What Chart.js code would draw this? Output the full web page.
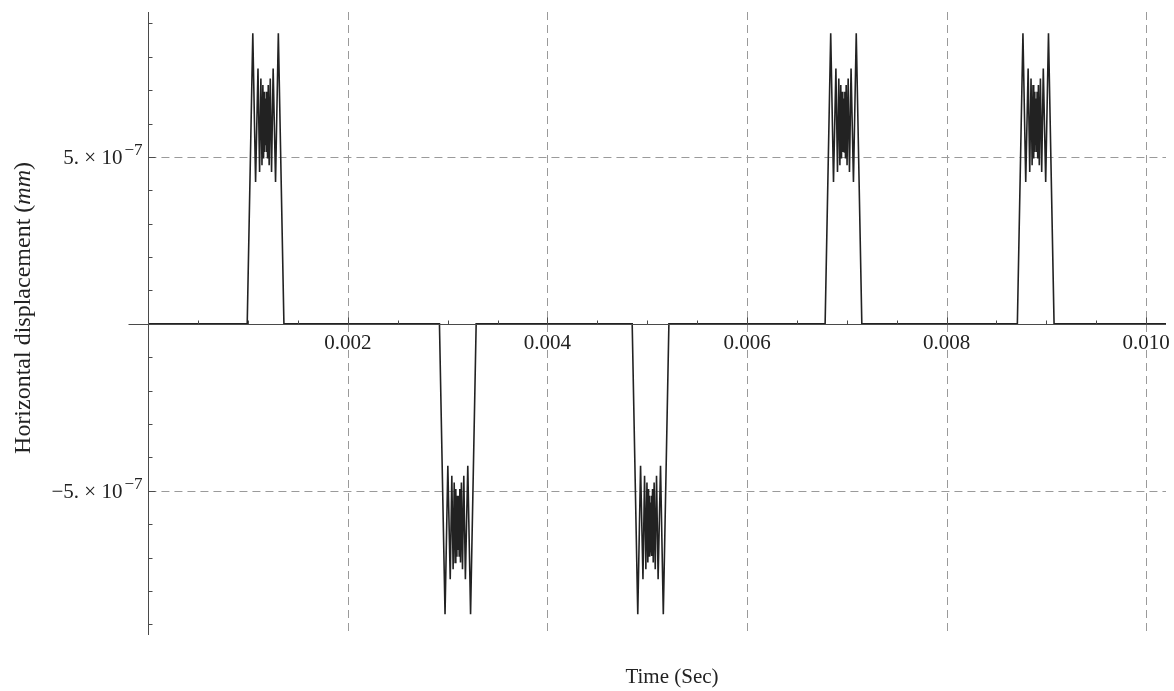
<!DOCTYPE html>
<html>
<head>
<meta charset="utf-8">
<script src="https://cdn.jsdelivr.net/npm/chart.js@4.4.1/dist/chart.umd.min.js"></script>
<style>
  body { margin: 0; background: #fff; }
</style>
</head>
<body>
<canvas id="grafico" width="1174" height="691"></canvas>
<script>
// time (s) and horizontal displacement (mm), one pair of arrays per pulse
let pulse1Time = [0.000990, 0.001046, 0.001074, 0.001098, 0.001114, 0.001127, 0.001138, 0.001147, 0.001154, 0.001160, 0.001165, 0.001169, 0.001172, 0.001174, 0.001176, 0.001179, 0.001183, 0.001188, 0.001194, 0.001201, 0.001210, 0.001221, 0.001234, 0.001250, 0.001274, 0.001302, 0.001358];
let pulse1Disp = [0, 8.7e-7, 4.25e-7, 7.65e-7, 4.55e-7, 7.35e-7, 4.75e-7, 7.15e-7, 4.95e-7, 6.95e-7, 5.15e-7, 6.75e-7, 5.35e-7, 6.6e-7, 5.35e-7, 6.75e-7, 5.15e-7, 6.95e-7, 4.95e-7, 7.15e-7, 4.75e-7, 7.35e-7, 4.55e-7, 7.65e-7, 4.25e-7, 8.7e-7, 0];

let pulse2Time = [0.002917, 0.002973, 0.003001, 0.003025, 0.003041, 0.003054, 0.003065, 0.003074, 0.003081, 0.003087, 0.003092, 0.003096, 0.003099, 0.003101, 0.003103, 0.003106, 0.003110, 0.003115, 0.003121, 0.003128, 0.003137, 0.003148, 0.003161, 0.003177, 0.003201, 0.003229, 0.003285];
let pulse2Disp = [0, -8.7e-7, -4.25e-7, -7.65e-7, -4.55e-7, -7.35e-7, -4.75e-7, -7.15e-7, -4.95e-7, -6.95e-7, -5.15e-7, -6.75e-7, -5.35e-7, -6.6e-7, -5.35e-7, -6.75e-7, -5.15e-7, -6.95e-7, -4.95e-7, -7.15e-7, -4.75e-7, -7.35e-7, -4.55e-7, -7.65e-7, -4.25e-7, -8.7e-7, 0];

let pulse3Time = [0.004849, 0.004905, 0.004933, 0.004957, 0.004973, 0.004986, 0.004997, 0.005006, 0.005013, 0.005019, 0.005024, 0.005028, 0.005031, 0.005033, 0.005035, 0.005038, 0.005042, 0.005047, 0.005053, 0.005060, 0.005069, 0.005080, 0.005093, 0.005109, 0.005133, 0.005161, 0.005217];
let pulse3Disp = [0, -8.7e-7, -4.25e-7, -7.65e-7, -4.55e-7, -7.35e-7, -4.75e-7, -7.15e-7, -4.95e-7, -6.95e-7, -5.15e-7, -6.75e-7, -5.35e-7, -6.6e-7, -5.35e-7, -6.75e-7, -5.15e-7, -6.95e-7, -4.95e-7, -7.15e-7, -4.75e-7, -7.35e-7, -4.55e-7, -7.65e-7, -4.25e-7, -8.7e-7, 0];

let pulse4Time = [0.006783, 0.006839, 0.006867, 0.006891, 0.006907, 0.006920, 0.006931, 0.006940, 0.006947, 0.006953, 0.006958, 0.006962, 0.006965, 0.006967, 0.006969, 0.006972, 0.006976, 0.006981, 0.006987, 0.006994, 0.007003, 0.007014, 0.007027, 0.007043, 0.007067, 0.007095, 0.007151];
let pulse4Disp = [0, 8.7e-7, 4.25e-7, 7.65e-7, 4.55e-7, 7.35e-7, 4.75e-7, 7.15e-7, 4.95e-7, 6.95e-7, 5.15e-7, 6.75e-7, 5.35e-7, 6.6e-7, 5.35e-7, 6.75e-7, 5.15e-7, 6.95e-7, 4.95e-7, 7.15e-7, 4.75e-7, 7.35e-7, 4.55e-7, 7.65e-7, 4.25e-7, 8.7e-7, 0];

let pulse5Time = [0.008710, 0.008766, 0.008794, 0.008818, 0.008834, 0.008847, 0.008858, 0.008867, 0.008874, 0.008880, 0.008885, 0.008889, 0.008892, 0.008894, 0.008896, 0.008899, 0.008903, 0.008908, 0.008914, 0.008921, 0.008930, 0.008941, 0.008954, 0.008970, 0.008994, 0.009022, 0.009078];
let pulse5Disp = [0, 8.7e-7, 4.25e-7, 7.65e-7, 4.55e-7, 7.35e-7, 4.75e-7, 7.15e-7, 4.95e-7, 6.95e-7, 5.15e-7, 6.75e-7, 5.35e-7, 6.6e-7, 5.35e-7, 6.75e-7, 5.15e-7, 6.95e-7, 4.95e-7, 7.15e-7, 4.75e-7, 7.35e-7, 4.55e-7, 7.65e-7, 4.25e-7, 8.7e-7, 0];

// ticks
let xTickValues = [0.002, 0.004, 0.006, 0.008, 0.010];
let xTickLabels = ['0.002', '0.004', '0.006', '0.008', '0.010'];
let xMinorTicks = [0.0005, 0.001, 0.0015, 0.0025, 0.003, 0.0035, 0.0045, 0.005, 0.0055, 0.0065, 0.007, 0.0075, 0.0085, 0.009, 0.0095, 0.0100];
let yTickValues = [5e-7, -5e-7];
let yTickLabels = [['5. × 10', '\u22127'], ['\u22125. × 10', '\u22127']];
let yMinorTicks = [-9e-7, -8e-7, -7e-7, -6e-7, -4e-7, -3e-7, -2e-7, -1e-7, 1e-7, 2e-7, 3e-7, 4e-7, 6e-7, 7e-7, 8e-7, 9e-7];

let pontos = [{x: 0, y: 0}];
[[pulse1Time, pulse1Disp], [pulse2Time, pulse2Disp], [pulse3Time, pulse3Disp],
 [pulse4Time, pulse4Disp], [pulse5Time, pulse5Disp]].forEach(function (p) {
    p[0].forEach(function (t, i) { pontos.push({x: t, y: p[1][i]}); });
});
pontos.push({x: 0.0102, y: 0});

const serif = '"Liberation Serif", "Times New Roman", serif';

const eixos = {
    id: 'eixos',
    beforeDatasetsDraw(chart) {
        const ctx = chart.ctx, sx = chart.scales.x, sy = chart.scales.y;
        const x0 = sx.getPixelForValue(0);
        ctx.save();
        ctx.strokeStyle = '#9a9a9a';
        ctx.lineWidth = 1;
        ctx.setLineDash([8, 5]);
        xTickValues.forEach(function (v) {
            const px = Math.round(sx.getPixelForValue(v)) + 0.5;
            ctx.beginPath();
            ctx.moveTo(px, sy.top);
            ctx.lineTo(px, sy.bottom);
            ctx.stroke();
        });
        yTickValues.forEach(function (v) {
            const py = Math.round(sy.getPixelForValue(v)) + 0.5;
            ctx.beginPath();
            ctx.moveTo(x0, py);
            ctx.lineTo(sx.right, py);
            ctx.stroke();
        });
        ctx.restore();
    },
    afterDatasetsDraw(chart) {
        const ctx = chart.ctx, sx = chart.scales.x, sy = chart.scales.y;
        const x0 = Math.round(sx.getPixelForValue(0)) + 0.5;
        const y0 = Math.round(sy.getPixelForValue(0)) + 0.5;
        ctx.save();
        ctx.strokeStyle = '#4a4a4a';
        ctx.lineWidth = 1;
        ctx.beginPath();
        ctx.moveTo(sx.left, y0);
        ctx.lineTo(sx.right, y0);
        ctx.moveTo(x0, sy.top);
        ctx.lineTo(x0, sy.bottom);
        xMinorTicks.forEach(function (v) {
            const px = Math.round(sx.getPixelForValue(v)) + 0.5;
            ctx.moveTo(px, y0);
            ctx.lineTo(px, y0 - 4);
        });
        xTickValues.forEach(function (v) {
            const px = Math.round(sx.getPixelForValue(v)) + 0.5;
            ctx.moveTo(px, y0);
            ctx.lineTo(px, y0 - 7);
        });
        yMinorTicks.forEach(function (v) {
            const py = Math.round(sy.getPixelForValue(v)) + 0.5;
            ctx.moveTo(x0, py);
            ctx.lineTo(x0 + 4, py);
        });
        yTickValues.forEach(function (v) {
            const py = Math.round(sy.getPixelForValue(v)) + 0.5;
            ctx.moveTo(x0, py);
            ctx.lineTo(x0 + 7, py);
        });
        ctx.stroke();

        ctx.fillStyle = '#222';
        ctx.font = '21px ' + serif;
        ctx.textAlign = 'center';
        ctx.textBaseline = 'alphabetic';
        xTickValues.forEach(function (v, i) {
            ctx.fillText(xTickLabels[i], sx.getPixelForValue(v), y0 + 24);
        });

        yTickValues.forEach(function (v, i) {
            const py = sy.getPixelForValue(v);
            const base = py + 7.5;
            ctx.textAlign = 'right';
            ctx.font = '17px ' + serif;
            const supW = ctx.measureText(yTickLabels[i][1]).width;
            ctx.fillText(yTickLabels[i][1], x0 - 6, base - 9);
            ctx.font = '21px ' + serif;
            ctx.fillText(yTickLabels[i][0], x0 - 6 - supW - 2, base);
        });

        // axis titles
        ctx.textAlign = 'left';
        ctx.font = '21px ' + serif;
        const tempo = 'Time (Sec)';
        ctx.fillText(tempo, 672 - ctx.measureText(tempo).width / 2, 683);

        ctx.translate(30, 308);
        ctx.rotate(-Math.PI / 2);
        const partes = [['Horizontal displacement (', ''], ['mm', 'italic '], [')', '']];
        let total = 0;
        partes.forEach(function (p) { ctx.font = p[1] + '24px ' + serif; total += ctx.measureText(p[0]).width; });
        let cx = -total / 2;
        partes.forEach(function (p) {
            ctx.font = p[1] + '24px ' + serif;
            ctx.fillText(p[0], cx, 0);
            cx += ctx.measureText(p[0]).width;
        });
        ctx.restore();
    }
};

let grafico = document.getElementById('grafico').getContext('2d');

let chartDeslocamento = new Chart(grafico, {
    type: 'line',
    data: {
        datasets: [{
            label: 'Horizontal displacement',
            data: pontos,
            borderColor: '#222',
            borderWidth: 1.6,
            pointRadius: 0,
            tension: 0,
            fill: false
        }]
    },
    options: {
        responsive: false,
        animation: false,
        devicePixelRatio: 1,
        layout: { padding: { left: 128.5, right: 8, top: 12, bottom: 56 } },
        plugins: { legend: { display: false }, tooltip: { enabled: false } },
        scales: {
            x: { type: 'linear', min: -0.0002, max: 0.0102, display: false },
            y: { type: 'linear', min: -9.32e-7, max: 9.34e-7, display: false }
        }
    },
    plugins: [eixos]
});
</script>
</body>
</html>
